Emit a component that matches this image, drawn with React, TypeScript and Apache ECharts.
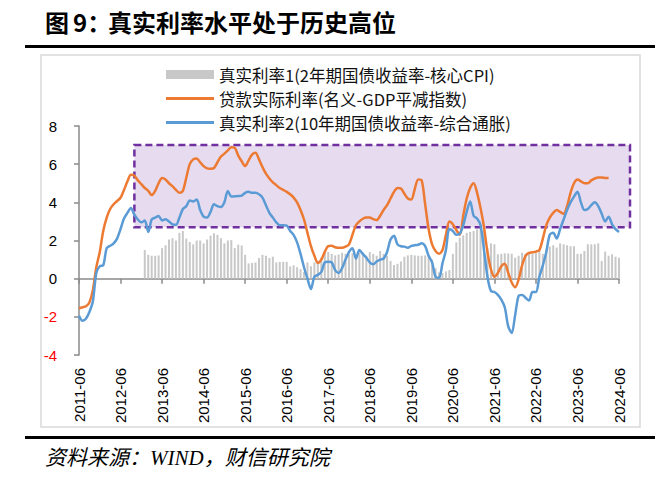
import React, { useEffect, useRef } from "react";
import * as echarts from "echarts";

// Monthly categories 2011-06 ... 2024-06
const categories: string[] = [];
for (let y = 2011; y <= 2024; y++) {
  for (let m = 1; m <= 12; m++) {
    if ((y === 2011 && m < 6) || (y === 2024 && m > 6)) continue;
    categories.push(`${y}-${m < 10 ? "0" + m : m}`);
  }
}

const nameBar = "真实利率1(2年期国债收益率-核心CPI)";
const nameLoan = "贷款实际利率(名义-GDP平减指数)";
const nameReal2 = "真实利率2(10年期国债收益率-综合通胀)";

// 真实利率1 (bars), 2011-06 .. 2024-06
const realRate1 = [
  null, null, null, null, null, null, null, null, null, null, null, null,
  null, null, null, null, null, null, null,
  1.5, 1.25, 1.2, 1.2, 1.22, 1.6, 1.75, 2.05, 2.12, 2.0, 2.4, 2.5,
  2.1, 1.92, 1.8, 2.0, 2.0, 1.85, 2.05, 2.25, 2.38, 2.3, 2.12, 1.85,
  2.0, 2.02, 1.6, 1.78, 1.74, 1.25, 0.8, 0.82, 0.85, 1.08, 1.25, 1.2,
  1.08, 1.15, 0.85, 0.88, 0.88, 0.88, 0.64, 0.7, 0.6, 0.5, 0.35, 0.85,
  0.65, 0.85, 0.95, 1.1, 1.36, 1.4, 1.3, 1.22, 1.27, 1.36, 1.3, 1.3,
  1.33, 1.2, 1.36, 1.3, 1.2, 1.4, 1.3, 1.2, 1.45, 1.3, 1.2, 0.93,
  0.72, 0.78, 0.9, 1.15, 1.22, 1.25, 1.22, 1.2, 1.2, 1.22, 1.2, 1.0,
  0.55, 0.32, 0.3, 0.38, 0.45, 1.3, 1.9, 2.15, 2.27, 2.4, 2.45, 2.5,
  2.58, 2.6, 2.55, 1.6, 1.85, 1.8, 1.28, 1.3, 1.33, 1.32, 1.3, 1.1,
  1.2, 1.36, 1.3, 1.36, 1.3, 1.36, 1.45, 1.3, 1.54, 1.68, 1.75, 1.63,
  1.85, 1.8, 1.75, 1.7, 1.7, 1.3, 1.3, 1.45, 1.8, 1.8, 1.8, 1.85,
  0.93, 1.42, 1.2, 1.28, 1.15, 1.1,
];

// 贷款实际利率 (orange line)
const loanRealRate = [
  -1.55, -1.5, -1.45, -1.25, -0.6, 0.6, 1.4, 2.5, 3.2, 3.65, 3.9, 4.07,
  4.24, 4.65, 5.1, 5.45, 5.4, 5.15, 4.95, 4.75, 4.6, 4.38, 4.6, 5.0,
  5.28, 5.2, 5.0, 4.85, 4.65, 4.5, 4.6, 5.3, 6.0, 6.25, 6.3, 6.1,
  5.9, 5.78, 5.76, 5.8, 6.1, 6.4, 6.55, 6.72, 6.88, 6.85, 6.45, 6.15,
  5.9, 6.2, 6.5, 6.6, 6.25, 5.85, 5.5, 5.25, 5.05, 4.9, 4.75, 4.65,
  4.55, 4.42, 4.25, 4.0, 3.6, 3.1, 2.4, 1.7, 1.2, 0.82, 1.0, 1.4,
  1.7, 1.72, 1.65, 1.62, 1.62, 1.68, 1.8, 2.3, 2.8, 3.0, 3.14, 3.2,
  3.2, 3.12, 3.07, 3.3, 3.6, 3.85, 4.2, 4.55, 4.75, 4.72, 4.45, 4.2,
  4.15, 4.7, 5.2, 5.15, 3.9, 2.6, 1.8, 1.45, 1.3, 1.5, 2.3, 3.0,
  2.85, 2.55, 2.3, 3.3, 4.2, 4.75, 5.0, 4.5, 3.7, 2.7, 1.4, 0.5,
  0.1, 0.3, 0.65, 0.78, 0.3, -0.2, -0.45, -0.05, 0.7, 1.2, 1.35, 1.38,
  1.42, 1.5, 2.1, 2.8, 3.2, 3.45, 3.6, 3.5, 3.4, 3.8, 4.5, 5.0,
  5.2, 5.1, 5.0, 5.0, 5.15, 5.25, 5.3, 5.3, 5.28, 5.27, null, null,
  null,
];

// 真实利率2 (blue line)
const realRate2 = [
  -1.95, -2.2, -2.1, -1.75, -1.2, 0.3, 0.65, 0.7, 1.6, 1.72, 1.85, 2.1,
  2.6, 3.15, 3.45, 3.7, 3.35, 3.1, 2.95, 3.05, 2.45, 3.1, 3.2, 3.28,
  3.05, 3.12, 3.0, 2.85, 2.82, 3.2, 3.65, 3.8, 4.1, 4.05, 4.15, 3.6,
  3.25, 3.2, 3.5, 3.9, 3.8, 3.75, 4.0, 4.6, 4.3, 4.32, 4.33, 4.35,
  4.5, 4.55, 4.5, 4.5, 4.42, 4.25, 3.85, 3.45, 3.2, 2.95, 2.8, 2.8,
  2.78, 2.5, 2.3, 1.9, 1.3, 0.6, 0.0, -0.55, 0.1, 0.2, 0.35, 0.85,
  0.88, 0.85, 0.45, 0.3, 0.55, 1.0, 1.4, 1.6, 1.05, 1.5, 1.3, 1.1,
  0.85, 0.75, 0.9, 1.0, 1.05, 1.4, 2.05, 2.25, 1.8, 1.7, 1.68, 1.62,
  1.72, 1.75, 1.78, 1.85, 1.7, 1.2, 0.85, 0.1, 0.05, 0.8, 1.5, 2.6,
  2.5, 2.3, 2.35, 2.8, 3.5, 4.05, 3.3, 3.15, 2.8, 1.5, 0.1, -0.65,
  -0.7, -0.85, -1.1, -1.5, -2.5, -2.85, -1.9, -0.9, -0.85, -1.0, -1.15, -0.7,
  -0.7, 0.1, 0.7, 1.4, 2.3, 2.4, 2.1, 2.6, 3.1, 3.6, 4.0, 4.3,
  4.55, 4.0, 3.6, 3.65, 3.85, 4.0, 3.8, 3.4, 3.0, 3.25, 2.85, 2.6,
  2.45,
];

// Highlight box (high real-rate zone)
const boxStart = "2012-10";
const boxEnd = "2024-06";
const boxTop = 7;
const boxBottom = 2.7;

const yMin = -4;
const yMax = 8;
const yInterval = 2;

const ORANGE = "#EC7A33";
const BLUE = "#5B9BD5";
const lineIcon = "path://M0,0 L48,0 L48,3 L0,3 Z";

export default function App() {
  const ref = useRef<HTMLDivElement>(null);
  useEffect(() => {
    const chart = echarts.init(ref.current!, null, { renderer: "svg" });
    const cjk = '"Noto Sans CJK SC", "Noto Sans", sans-serif';
    const num = '"Liberation Sans", Arial, sans-serif';
    const every12 = (i: number) => i % 12 === 0;
    chart.setOption({
      animation: false,
      backgroundColor: "#ffffff",
      grid: { left: 79, right: 47, top: 126, bottom: 135, containLabel: false },
      legend: {
        orient: "vertical",
        left: 161,
        top: 59,
        itemWidth: 48,
        itemHeight: 9,
        itemGap: 3,
        selectedMode: false,
        symbolKeepAspect: true,
        data: [
          { name: nameBar, icon: "rect" },
          { name: nameLoan, icon: lineIcon },
          { name: nameReal2, icon: lineIcon },
        ],
        textStyle: { fontSize: 16.5, color: "#111", fontFamily: cjk, lineHeight: 21 },
      },
      xAxis: [
        {
          type: "category",
          data: categories,
          boundaryGap: false,
          position: "bottom",
          axisLine: { show: false, onZero: false },
          axisTick: { show: false },
          axisLabel: {
            interval: every12,
            rotate: 90,
            margin: 13,
            fontSize: 15,
            color: "#000",
            fontFamily: num,
          },
          splitLine: { show: false },
        },
        {
          type: "category",
          data: categories,
          boundaryGap: false,
          position: "top",
          axisLine: { show: true, onZero: true, lineStyle: { color: "#8a8a8a", width: 1.5 } },
          axisTick: { show: true, inside: true, interval: every12, length: 5, lineStyle: { color: "#8a8a8a", width: 1.5 } },
          axisLabel: { show: false },
          splitLine: { show: false },
        },
      ],
      yAxis: {
        type: "value",
        min: yMin,
        max: yMax,
        interval: yInterval,
        axisLine: { show: true, lineStyle: { color: "#8a8a8a", width: 1.5 } },
        axisTick: { show: true, length: 5, lineStyle: { color: "#8a8a8a", width: 1.5 } },
        splitLine: { show: false },
        axisLabel: {
          margin: 22,
          fontSize: 15,
          fontFamily: num,
          color: (v: any) => (Number(v) < 0 ? "#ff0000" : "#000000"),
        },
      },
      series: [
        {
          name: nameBar,
          type: "bar",
          xAxisIndex: 0,
          data: realRate1,
          barWidth: 2,
          itemStyle: { color: "#c8c8c8" },
        },
        {
          name: nameLoan,
          type: "line",
          xAxisIndex: 0,
          data: loanRealRate,
          smooth: 0.3,
          symbol: "none",
          lineStyle: { color: ORANGE, width: 2.5 },
          itemStyle: { color: ORANGE },
          z: 3,
        },
        {
          name: nameReal2,
          type: "line",
          xAxisIndex: 0,
          data: realRate2,
          smooth: 0.3,
          symbol: "none",
          lineStyle: { color: BLUE, width: 2.5 },
          itemStyle: { color: BLUE },
          z: 4,
        },
      ],
      graphic: {
        elements: [
          {
            id: "title1",
            type: "text",
            left: 45,
            top: 9,
            style: { text: "图", font: 'bold 24px "Noto Sans CJK SC", sans-serif', fill: "#000" },
          },
          {
            id: "title2",
            type: "text",
            left: 73,
            top: 9,
            style: { text: "9：", font: 'bold 24px "Noto Sans CJK SC", sans-serif', fill: "#000" },
          },
          {
            id: "title3",
            type: "text",
            left: 108,
            top: 9,
            style: { text: "真实利率水平处于历史高位", font: 'bold 24px "Noto Sans CJK SC", sans-serif', fill: "#000" },
          },
          { id: "topline", type: "rect", shape: { x: 25, y: 45, width: 630, height: 3 }, style: { fill: "#000" } },
          {
            id: "frame",
            type: "rect",
            shape: { x: 41, y: 55, width: 599, height: 372 },
            style: { fill: "none", stroke: "#d9d9d9", lineWidth: 1.5 },
          },
          { id: "botline", type: "rect", shape: { x: 25, y: 436, width: 630, height: 3 }, style: { fill: "#000" } },
          {
            id: "source",
            type: "text",
            left: 45,
            top: 447,
            style: {
              text: "资料来源：WIND，财信研究院",
              font: 'italic 21px "Liberation Serif", "Noto Sans CJK SC", serif',
              fill: "#000",
            },
          },
        ],
      },
    });

    const p1 = chart.convertToPixel({ xAxisIndex: 0, yAxisIndex: 0 }, [boxStart, boxTop]) as number[];
    const p2 = chart.convertToPixel({ xAxisIndex: 0, yAxisIndex: 0 }, [boxEnd, boxBottom]) as number[];
    if (p1 && p2) {
      chart.setOption({
        graphic: {
          elements: [
            {
              id: "box",
              type: "rect",
              z: 0,
              shape: { x: p1[0], y: p1[1], width: p2[0] + 11 - p1[0], height: p2[1] - p1[1] },
              style: { fill: "#E7DCEF", stroke: "#7030A0", lineWidth: 2.5, lineDash: [7, 4] },
            },
          ],
        },
      });
    }
    return () => chart.dispose();
  }, []);
  return (
    <div
      ref={ref}
      style={{ position: "fixed", left: 0, top: 0, width: 666, height: 490, background: "#fff" }}
    />
  );
}
